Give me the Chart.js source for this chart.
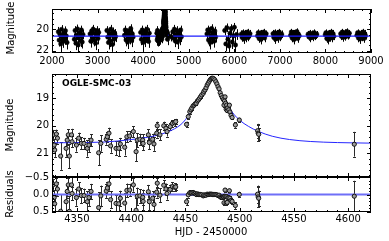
<!DOCTYPE html>
<html>
<head>
<meta charset="utf-8">
<script src="https://cdn.jsdelivr.net/npm/chart.js@4.4.1/dist/chart.umd.min.js"></script>
<style>
html, body { margin: 0; padding: 0; background: #fff; }
#wrap { position: relative; width: 389px; height: 241px; font-family: "DejaVu Sans", sans-serif; color: #000; }
#wrap canvas { position: absolute; left: 0; top: 0; }
.lbl { position: absolute; font-size: 10px; white-space: nowrap; line-height: 12px; }
.ylbl { transform: translate(-50%, -50%) rotate(-90deg); }
.xlbl { transform: translate(-50%, -50%); }
.tag { font-weight: bold; font-size: 9px; }
</style>
</head>
<body>
<div id="wrap">
  <canvas id="c-top" width="389" height="241"></canvas>
  <canvas id="c-mid" width="389" height="241"></canvas>
  <canvas id="c-res" width="389" height="241"></canvas>
  <div class="lbl ylbl" style="left:11px;top:28px">Magnitude</div>
  <div class="lbl ylbl" style="left:10px;top:125px">Magnitude</div>
  <div class="lbl ylbl" style="left:10px;top:194px">Residuals</div>
  <div class="lbl xlbl" style="left:211px;top:232px">HJD - 2450000</div>
  <div class="lbl tag" style="left:62px;top:77px">OGLE-SMC-03</div>
</div>
<script>
const FONT = 'DejaVu Sans'

// tick labels
const topXTicks = [2000, 3000, 4000, 5000, 6000, 7000, 8000, 9000]
const topYTicks = [20, 22]
const midYTicks = [19, 20, 21]
const resYTicks = [-0.5, 0.0, 0.5]
const hjdTicks = [4350, 4400, 4450, 4500, 4550, 4600]
const hjdRange = [4327, 4621]

// event season (HJD - 2450000, mag, error, residual)
const midT = [4328, 4329, 4329.5, 4331, 4332, 4335, 4340, 4341, 4342, 4343, 4345, 4345.5, 4349.5, 4351.6, 4354, 4356.5, 4359.5, 4361, 4363, 4370,
  4372, 4377, 4378, 4379.5, 4381, 4386, 4388.5, 4390, 4394, 4396, 4398.6, 4402, 4404.5, 4405.6, 4408, 4410.6, 4411, 4415.8, 4416.7, 4419.8,
  4421, 4423.5, 4424, 4426.5, 4430, 4432, 4433, 4436, 4438, 4440, 4441,
  4451, 4452.6, 4454, 4455, 4455.8, 4457, 4458, 4459, 4460, 4461, 4462, 4463, 4464, 4465, 4466.4, 4467, 4468, 4469, 4470, 4471,
  4472, 4473, 4474, 4475, 4476, 4477, 4478, 4479, 4480, 4481, 4482, 4483, 4484, 4485, 4485.5, 4486, 4486.5, 4487, 4487.5, 4488,
  4488.5, 4489, 4490, 4490.5, 4491, 4492, 4493, 4496, 4499.6, 4516.5, 4517, 4517.5, 4605.6]
const midMag = [20.33, 20.70, 20.88, 20.30, 20.45, 21.10, 20.82, 20.52, 20.33, 21.10, 20.33, 20.58, 20.70, 20.45, 20.64, 20.64, 20.82, 20.70, 20.52, 20.98,
  20.64, 20.49, 20.40, 20.27, 20.73, 20.82, 20.82, 20.66, 20.78, 20.40, 20.37, 20.21, 20.94, 20.52, 20.49, 20.52, 20.64, 20.33, 20.61, 20.49,
  20.66, 20.27, 20.00, 20.33, 20.00, 20.09, 20.21, 20.03, 19.91, 19.89, 19.85,
  19.95, 19.67, 19.49, 19.42, 19.36, 19.28, 19.25, 19.20, 19.18, 19.10, 19.06, 19.00, 18.94, 18.88, 18.82, 18.75, 18.70, 18.62, 18.52, 18.45,
  18.38, 18.32, 18.28, 18.27, 18.29, 18.33, 18.40, 18.48, 18.58, 18.66, 18.80, 18.90, 18.98, 19.05, 19.25, 19.10, 18.95, 19.18, 19.40, 19.25,
  19.45, 19.35, 19.42, 19.25, 19.50, 19.62, 19.70, 19.97, 19.79, 20.18, 20.27, 20.31, 20.67]
const midErr = [0.18, 0.22, 0.25, 0.16, 0.20, 0.50, 0.30, 0.18, 0.20, 0.45, 0.22, 0.20, 0.24, 0.20, 0.22, 0.20, 0.30, 0.25, 0.22, 0.45,
  0.30, 0.20, 0.18, 0.20, 0.25, 0.25, 0.28, 0.22, 0.30, 0.20, 0.18, 0.20, 0.35, 0.25, 0.20, 0.22, 0.25, 0.20, 0.25, 0.20,
  0.25, 0.16, 0.15, 0.20, 0.15, 0.16, 0.18, 0.14, 0.12, 0.12, 0.10,
  0.10, 0.08, 0.07, 0.06, 0.06, 0.05, 0.05, 0.05, 0.05, 0.04, 0.04, 0.04, 0.04, 0.04, 0.04, 0.04, 0.03, 0.03, 0.03, 0.03,
  0.03, 0.03, 0.03, 0.03, 0.03, 0.03, 0.03, 0.03, 0.03, 0.03, 0.04, 0.04, 0.04, 0.05, 0.06, 0.05, 0.05, 0.05, 0.06, 0.05,
  0.06, 0.05, 0.06, 0.06, 0.06, 0.07, 0.07, 0.10, 0.08, 0.25, 0.28, 0.22, 0.45]
const midRes = [-0.28, 0.09, 0.27, -0.31, -0.16, 0.49, 0.21, -0.09, -0.28, 0.49, -0.28, -0.03, 0.09, -0.16, 0.03, 0.03, 0.21, 0.09, -0.09, 0.38,
  0.04, -0.10, -0.19, -0.31, 0.15, 0.26, 0.27, 0.11, 0.25, -0.12, -0.13, -0.28, 0.46, 0.05, 0.04, 0.08, 0.20, -0.08, 0.21, 0.11,
  0.29, -0.07, -0.33, 0.02, -0.27, -0.16, -0.03, -0.15, -0.23, -0.21, -0.22,
  0.21, 0.01, -0.05, -0.05, -0.05, -0.06, -0.04, -0.03, 0.00, -0.02, 0.00, 0.00, 0.00, 0.01, 0.04, 0.01, 0.02, 0.02, -0.01, 0.00,
  -0.01, -0.01, -0.01, 0.00, 0.00, 0.00, 0.00, 0.01, 0.03, 0.02, 0.07, 0.08, 0.08, 0.07, 0.24, 0.05, -0.13, 0.06, 0.25, 0.06,
  0.23, 0.09, 0.09, -0.11, 0.11, 0.17, 0.20, 0.32, 0.00, -0.01, 0.07, 0.11, 0.05]

// microlensing fit
const modelT = [4327, 4350, 4375, 4400, 4420, 4435, 4445, 4450, 4453, 4456, 4460, 4464, 4468, 4471, 4474, 4475, 4477, 4480, 4483, 4486,
  4490, 4495, 4500, 4508, 4517, 4530, 4546, 4565, 4590, 4621]
const modelMag = [20.62, 20.61, 20.59, 20.50, 20.38, 20.20, 19.98, 19.78, 19.60, 19.40, 19.18, 18.94, 18.68, 18.45, 18.29, 18.27, 18.33, 18.55, 18.82, 19.05,
  19.33, 19.60, 19.80, 20.02, 20.20, 20.38, 20.50, 20.57, 20.61, 20.63]
const topModelT = [2000, ...modelT, 9000]
const topModelMag = [20.62, ...modelMag, 20.63]

// full light curve, other seasons
const topT = [
  2140, 2157, 2175, 2192, 2209, 2226, 2244, 2261, 2278, 2295, 2313, 2330,
  2490, 2507, 2525, 2542, 2559, 2576, 2594, 2611, 2628, 2645, 2663, 2680,
  2835, 2852, 2870, 2887, 2904, 2921, 2939, 2956, 2973, 2990, 3008, 3025,
  3205, 3222, 3240, 3257, 3274, 3291, 3309, 3326, 3343, 3360, 3378, 3395,
  3590, 3607, 3625, 3642, 3659, 3676, 3694, 3711, 3728, 3745, 3763, 3780,
  3945, 3962, 3980, 3997, 4014, 4031, 4049, 4066, 4083, 4100, 4118, 4135,
  4300, 4308, 4315, 4322, 4522, 4528, 4535, 4542,
  4650, 4667, 4685, 4702, 4719, 4736, 4754, 4771, 4788, 4805, 4823, 4840,
  5400, 5417, 5435, 5452, 5469, 5486, 5504, 5521, 5538, 5555, 5573, 5590,
  5790, 5814, 5837, 5861, 5884, 5908, 5932, 5955, 5979, 6002, 6026, 6050,
  6155, 6172, 6190, 6207, 6224, 6241, 6259, 6276, 6293, 6310, 6328, 6345,
  6510, 6527, 6545, 6562, 6579, 6596, 6614, 6631, 6648, 6665, 6683, 6700,
  6850, 6867, 6885, 6902, 6919, 6936, 6954, 6971, 6988, 7005, 7023, 7040,
  7235, 7252, 7270, 7287, 7304, 7321, 7339, 7356, 7373, 7390, 7408, 7425,
  7620, 7637, 7655, 7672, 7689, 7706, 7724, 7741, 7758, 7775, 7793, 7810,
  7995, 8012, 8030, 8047, 8064, 8081, 8099, 8116, 8133, 8150, 8168, 8185,
  8335, 8352, 8370, 8387, 8404, 8421, 8439, 8456, 8473, 8490, 8508, 8525,
  8690, 8707, 8725, 8742, 8759, 8776, 8794, 8811, 8828, 8845, 8863, 8880]
const topMag = [
  20.22, 21.00, 20.45, 21.35, 20.00, 20.72, 21.12, 20.35, 20.88, 20.12, 20.60, 21.22,
  20.92, 20.10, 21.28, 20.55, 19.95, 21.45, 20.68, 20.30, 21.05, 20.05, 21.18, 20.48,
  20.42, 21.10, 20.15, 20.80, 19.98, 20.98, 20.35, 21.28, 20.60, 20.10, 20.85, 20.28,
  20.10, 20.72, 21.22, 20.35, 21.05, 19.98, 20.55, 21.40, 20.22, 20.92, 20.42, 20.68,
  20.55, 20.05, 20.98, 20.30, 21.18, 20.68, 20.15, 20.85, 19.92, 21.05, 20.42, 20.72,
  20.28, 20.92, 20.05, 21.22, 20.48, 20.15, 21.05, 20.60, 19.98, 20.80, 21.12, 20.35,
  20.35, 20.98, 20.10, 20.80, 20.55, 20.28, 20.92, 20.48,
  20.22, 20.80, 19.98, 21.05, 20.48, 20.10, 21.18, 20.60, 20.28, 20.92, 20.05, 20.68,
  20.42, 20.05, 20.98, 20.22, 21.22, 20.60, 19.92, 20.85, 20.35, 21.10, 20.15, 20.72,
  20.10, 21.35, 19.85, 20.92, 21.55, 20.35, 19.92, 21.18, 20.60, 19.80, 21.45, 20.48,
  20.45, 20.75, 20.30, 20.90, 20.55, 20.35, 20.80, 20.50, 20.25, 20.70, 20.60, 20.40,
  20.60, 20.30, 20.85, 20.45, 20.95, 20.35, 20.70, 20.50, 20.25, 20.80, 20.55, 20.40,
  20.40, 20.75, 20.30, 20.90, 20.55, 20.35, 20.85, 20.50, 20.25, 20.70, 20.60, 20.45,
  20.55, 20.25, 20.80, 20.40, 20.95, 20.35, 20.70, 20.50, 20.20, 20.85, 20.45, 20.60,
  20.45, 20.70, 20.35, 20.80, 20.55, 20.40, 20.75, 20.50, 20.30, 20.65, 20.60, 20.45,
  20.50, 20.30, 20.85, 20.45, 20.95, 20.35, 20.75, 20.55, 20.25, 20.80, 20.40, 20.65,
  20.40, 20.65, 20.25, 20.75, 20.50, 20.30, 20.70, 20.45, 20.20, 20.60, 20.55, 20.35,
  20.55, 20.30, 20.80, 20.45, 20.90, 20.35, 20.70, 20.50, 20.25, 20.85, 20.40, 20.60]
const topErr = [
  0.45, 0.60, 0.40, 0.70, 0.40, 0.50, 0.60, 0.40, 0.55, 0.40, 0.45, 0.65,
  0.55, 0.40, 0.65, 0.45, 0.40, 0.75, 0.50, 0.40, 0.60, 0.40, 0.60, 0.45,
  0.45, 0.60, 0.40, 0.50, 0.40, 0.60, 0.45, 0.65, 0.45, 0.40, 0.55, 0.40,
  0.40, 0.50, 0.65, 0.45, 0.60, 0.40, 0.45, 0.70, 0.40, 0.55, 0.45, 0.50,
  0.45, 0.40, 0.60, 0.40, 0.65, 0.50, 0.40, 0.55, 0.40, 0.60, 0.45, 0.50,
  0.40, 0.55, 0.40, 0.65, 0.45, 0.40, 0.60, 0.45, 0.40, 0.50, 0.60, 0.45,
  0.40, 0.55, 0.40, 0.50, 0.45, 0.40, 0.55, 0.45,
  0.40, 0.50, 0.40, 0.60, 0.45, 0.40, 0.65, 0.45, 0.40, 0.55, 0.40, 0.50,
  0.45, 0.40, 0.60, 0.40, 0.65, 0.45, 0.40, 0.55, 0.45, 0.60, 0.40, 0.50,
  0.45, 0.70, 0.40, 0.60, 0.75, 0.45, 0.40, 0.65, 0.50, 0.40, 0.75, 0.50,
  0.35, 0.40, 0.30, 0.45, 0.35, 0.30, 0.40, 0.35, 0.30, 0.40, 0.35, 0.35,
  0.35, 0.30, 0.40, 0.35, 0.45, 0.30, 0.40, 0.35, 0.30, 0.40, 0.35, 0.30,
  0.35, 0.40, 0.30, 0.45, 0.35, 0.30, 0.40, 0.35, 0.30, 0.40, 0.35, 0.35,
  0.35, 0.30, 0.40, 0.35, 0.45, 0.30, 0.40, 0.35, 0.30, 0.40, 0.35, 0.35,
  0.30, 0.35, 0.30, 0.40, 0.30, 0.30, 0.35, 0.30, 0.30, 0.35, 0.30, 0.30,
  0.35, 0.30, 0.40, 0.35, 0.45, 0.30, 0.40, 0.35, 0.30, 0.40, 0.35, 0.35,
  0.30, 0.35, 0.30, 0.40, 0.30, 0.30, 0.35, 0.30, 0.30, 0.35, 0.30, 0.30,
  0.35, 0.30, 0.40, 0.35, 0.45, 0.30, 0.40, 0.35, 0.30, 0.40, 0.35, 0.35]

const pts = (xs, ys) => xs.map((x, i) => ({ x, y: ys[i] }))

function minors(scale, step) {
  const majors = scale.ticks.map(t => t.value)
  const out = []
  const n0 = Math.ceil(scale.min / step - 1e-9), n1 = Math.floor(scale.max / step + 1e-9)
  for (let n = n0; n <= n1; n++) {
    const v = n * step
    if (!majors.some(m => Math.abs(m - v) < step / 10)) out.push(v)
  }
  return out
}

// error bars under the markers
const errorBars = {
  id: 'errorBars',
  beforeDatasetsDraw(chart) {
    const { ctx, chartArea: a, scales: { x, y } } = chart
    ctx.save()
    ctx.beginPath()
    ctx.rect(a.left, a.top, a.right - a.left, a.bottom - a.top)
    ctx.clip()
    chart.data.datasets.forEach(ds => {
      if (!ds.errors) return
      ctx.strokeStyle = ds.errorColor
      ctx.lineWidth = 1
      ctx.beginPath()
      ds.data.forEach((p, i) => {
        const px = Math.round(x.getPixelForValue(p.x)) + 0.5
        const y0 = y.getPixelForValue(p.y - ds.errors[i])
        const y1 = y.getPixelForValue(p.y + ds.errors[i])
        ctx.moveTo(px, y0); ctx.lineTo(px, y1)
        if (ds.cap) {
          ctx.moveTo(px - ds.cap, Math.round(y0) + 0.5); ctx.lineTo(px + ds.cap, Math.round(y0) + 0.5)
          ctx.moveTo(px - ds.cap, Math.round(y1) + 0.5); ctx.lineTo(px + ds.cap, Math.round(y1) + 0.5)
        }
      })
      ctx.stroke()
    })
    ctx.restore()
  }
}

// box frame with inward ticks on all four sides
const frame = {
  id: 'frame',
  afterDraw(chart, args, o) {
    const { ctx, chartArea: a, scales: { x, y } } = chart
    ctx.save()
    ctx.strokeStyle = '#000'
    ctx.lineWidth = 1
    ctx.beginPath()
    const vx = (v, len) => {
      const p = Math.round(x.getPixelForValue(v)) + 0.5
      ctx.moveTo(p, a.top); ctx.lineTo(p, a.top + len)
      ctx.moveTo(p, a.bottom); ctx.lineTo(p, a.bottom - len)
    }
    const vy = (v, len) => {
      const p = Math.round(y.getPixelForValue(v)) + 0.5
      ctx.moveTo(a.left, p); ctx.lineTo(a.left + len, p)
      ctx.moveTo(a.right, p); ctx.lineTo(a.right - len, p)
    }
    x.ticks.forEach(t => vx(t.value, 4))
    minors(x, o.xMinor).forEach(v => vx(v, 2))
    y.ticks.forEach(t => vy(t.value, 4))
    minors(y, o.yMinor).forEach(v => vy(v, 2))
    ctx.stroke()
    ctx.strokeRect(a.left + 0.5, a.top + 0.5, a.right - a.left - 1, a.bottom - a.top - 1)
    ctx.restore()
  }
}

function axis(min, max, ticks, size, opt = {}) {
  return {
    type: 'linear', min, max, reverse: !!opt.reverse,
    grid: { display: false, drawTicks: false },
    border: { display: false },
    afterBuildTicks: s => { s.ticks = ticks.map(v => ({ value: v })) },
    afterFit: s => { if (s.isHorizontal()) s.height = size; else s.width = size },
    ticks: {
      display: opt.labels !== false, padding: opt.pad || 3, color: '#000',
      font: { family: FONT, size: 10 }, autoSkip: false, maxRotation: 0,
      callback: opt.fmt || (v => String(v)),
    },
  }
}

// area = [left, top, right, bottom] of the plot box in page pixels
function makeChart(id, area, datasets, xs, ys, minor) {
  return new Chart(document.getElementById(id), {
    type: 'scatter',
    data: { datasets },
    options: {
      responsive: false, animation: false, devicePixelRatio: 1,
      layout: { padding: { left: 0, top: area[1], right: 389 - area[2], bottom: 0 } },
      plugins: { legend: { display: false }, tooltip: { enabled: false }, frame: minor },
      scales: {
        x: axis(xs.min, xs.max, xs.ticks, 241 - area[3], xs),
        y: axis(ys.min, ys.max, ys.ticks, area[0], ys),
      },
    },
    plugins: [errorBars, frame],
  })
}

Chart.defaults.font.family = FONT

// first dataset is drawn on top
makeChart('c-top', [52, 4, 371, 53], [
  { data: pts(midT, midMag), errors: midErr, errorColor: '#000', pointRadius: 2.3, pointBackgroundColor: '#000', pointBorderColor: '#000', pointBorderWidth: 0.5 },
  { data: pts(topModelT, topModelMag), showLine: true, borderColor: '#1c1cff', borderWidth: 1.2, pointRadius: 0, cubicInterpolationMode: 'monotone' },
  { data: pts(topT, topMag), errors: topErr, errorColor: '#000', pointRadius: 2.2, pointBackgroundColor: '#000', pointBorderColor: '#000', pointBorderWidth: 0.5 },
],
  { min: 2000, max: 9000, ticks: topXTicks, pad: 2 },
  { min: 18.1, max: 22.2, ticks: topYTicks, reverse: true },
  { xMinor: 200, yMinor: 0.5 })

makeChart('c-mid', [52, 74, 371, 177], [
  { data: pts(midT, midMag), errors: midErr, errorColor: '#2a2a2a', cap: 1.5, pointRadius: 2.1, pointBackgroundColor: '#9c9c9c', pointBorderColor: '#111', pointBorderWidth: 1 },
  { data: pts(modelT, modelMag), showLine: true, borderColor: '#2626ff', borderWidth: 1, pointRadius: 0, cubicInterpolationMode: 'monotone' },
],
  { min: hjdRange[0], max: hjdRange[1], ticks: hjdTicks, labels: false },
  { min: 18.12, max: 21.86, ticks: midYTicks, reverse: true },
  { xMinor: 10, yMinor: 0.2 })

makeChart('c-res', [52, 177, 371, 212], [
  { data: pts(midT, midRes), errors: midErr, errorColor: '#2a2a2a', cap: 1.5, pointRadius: 2.1, pointBackgroundColor: '#9c9c9c', pointBorderColor: '#111', pointBorderWidth: 1 },
  { data: hjdRange.map(x => ({ x, y: 0 })), showLine: true, borderColor: '#6f6ff7', borderWidth: 2, pointRadius: 0 },
],
  { min: hjdRange[0], max: hjdRange[1], ticks: hjdTicks, pad: 1.5 },
  { min: -0.51, max: 0.51, ticks: resYTicks, reverse: true, fmt: v => (v < 0 ? '\u2212' : '') + Math.abs(v).toFixed(1) },
  { xMinor: 10, yMinor: 0.1 })
</script>
</body>
</html>
